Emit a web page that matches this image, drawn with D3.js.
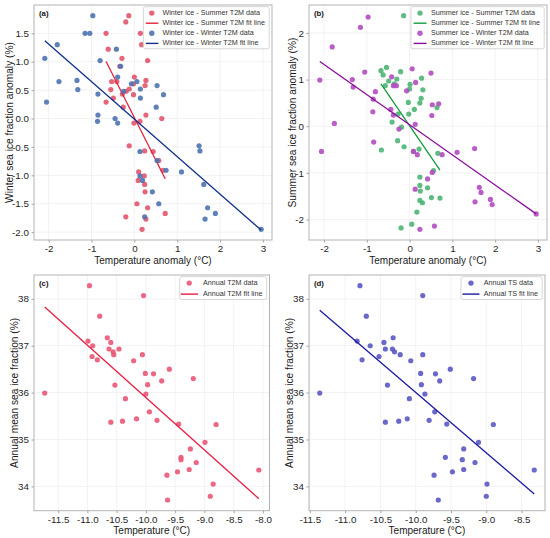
<!DOCTYPE html>
<html><head><meta charset="utf-8">
<script src="https://cdn.jsdelivr.net/npm/d3@7"></script>
<style>
body{margin:0;background:#fff}
text{font-family:"Liberation Sans",Arial,Helvetica,sans-serif}
</style>
</head><body>
<svg id="chart" width="550" height="538"></svg>
<script>
// ---------- DATA ----------
// Panel (a): winter ice anomaly vs summer / winter T2M anomaly
const aSummerX = [-0.13,-0.20,-0.66,0.14,0.17,-0.61,-0.29,0.31,-0.34,0.00,0.27,-0.53,-0.41,0.25,-0.02,-0.55,-0.12,-0.19,-0.28,-0.02,-0.49,-0.66,-0.26,0.27,0.64,0.13,-0.01,-0.12,0.24,0.44,0.57,0.67,0.10,0.23,0.09,0.24,0.25,0.06,0.31,0.72,-0.20,0.27,0.18];
const aSummerY = [1.81,1.70,1.50,1.50,1.30,1.22,1.06,1.02,0.92,0.73,0.67,0.65,0.65,0.58,0.61,0.51,0.52,0.48,0.43,0.42,0.36,0.29,0.20,0.06,0.00,-0.05,-0.08,-0.48,-0.57,-0.58,-0.74,-0.91,-0.94,-1.01,-1.09,-1.16,-1.29,-1.50,-1.57,-1.67,-1.73,-1.77,-1.95];
const aWinterX = [-0.97,-1.15,-1.04,-1.80,-2.09,-0.42,-0.80,-0.32,-1.76,-1.34,-1.32,-2.05,-0.85,-0.39,-0.07,0.06,-0.25,0.14,0.53,0.14,0.68,0.51,-0.85,-0.86,-0.45,-0.39,0.13,1.51,1.53,0.74,1.10,0.13,0.19,1.62,0.42,0.57,0.24,1.65,1.71,1.89,2.96,0.53];
const aWinterY = [1.81,1.50,1.50,1.30,1.06,1.22,1.02,0.92,0.65,0.67,0.51,0.29,0.43,0.73,0.61,0.65,0.48,0.52,0.58,0.36,0.42,0.20,0.06,-0.05,0.00,-0.08,-0.58,-0.48,-0.57,-0.91,-0.94,-1.01,-1.09,-1.16,-1.29,-1.50,-1.73,-1.77,-1.57,-1.67,-1.95,-0.74];
// Panel (b): summer ice anomaly vs summer / winter T2M anomaly
const bSummerX = [-0.14,-0.54,-0.67,-0.21,-0.62,-0.49,-0.30,-0.57,-0.36,0.01,0.28,0.00,0.31,0.27,-0.03,0.24,0.11,0.64,-0.27,-0.02,-0.41,-0.19,-0.28,-0.66,-0.13,0.22,0.09,0.66,0.56,0.24,0.24,0.25,0.42,0.24,0.30,0.51,0.71,0.17,-0.20,0.05];
const bSummerY = [2.37,1.26,1.19,1.17,1.10,0.97,1.01,0.87,0.91,0.90,1.03,0.80,0.78,0.60,0.51,0.50,0.36,0.40,0.26,0.26,0.09,-0.02,-0.31,-0.51,-0.44,-0.49,-0.54,-0.58,-0.95,-1.09,-1.27,-1.39,-1.32,-1.59,-1.64,-1.53,-1.54,-1.84,-2.18,-2.10];
const bWinterX = [-0.97,-1.15,-1.81,-2.10,-2.06,-1.76,-1.34,-1.32,-1.05,-0.80,-0.85,-0.86,-0.84,-0.42,-0.38,-0.31,-0.44,-0.38,-0.25,0.06,-0.07,0.14,0.50,0.53,0.68,0.52,0.13,0.09,0.18,0.76,1.11,1.52,0.53,0.13,0.42,1.63,1.67,1.53,1.89,1.93,2.96,0.58,0.24];
const bWinterY = [2.34,2.12,1.70,0.99,-0.54,0.06,1.00,0.84,1.16,0.74,0.58,0.31,-0.34,1.06,0.87,0.87,0.36,0.24,-0.06,1.23,0.76,0.94,1.14,0.46,0.48,0.23,0.04,-0.54,-0.61,-0.61,-0.56,-0.48,-0.99,-1.35,-1.13,-1.31,-1.42,-1.62,-1.57,-1.68,-1.88,-2.14,-2.21];
// Panels (c),(d): annual mean sea ice fraction vs annual T2M / TS
const annualIce = [35.99,38.28,38.07,37.63,37.10,37.00,36.77,36.70,37.17,37.07,36.93,36.87,36.81,36.93,36.68,36.81,36.41,36.40,36.50,36.25,36.30,36.17,36.16,35.87,35.97,35.59,35.44,35.39,35.37,35.41,35.33,35.32,34.94,34.80,34.62,34.57,34.51,34.36,34.31,34.24,34.35,34.05,33.79,33.71];
const annualT2M = [-11.73,-10.965,-10.04,-10.79,-10.99,-10.91,-10.92,-10.83,-10.66,-10.60,-10.63,-10.56,-10.55,-10.46,-10.21,-10.06,-10.01,-9.87,-9.60,-9.73,-9.19,-9.97,-10.53,-10.35,-10.00,-9.94,-10.16,-10.40,-10.60,-9.81,-9.44,-8.80,-8.99,-9.24,-9.40,-9.40,-9.14,-9.26,-9.46,-9.64,-8.07,-8.85,-8.90,-9.63];
const annualTS  = [-11.36,-10.79,-9.90,-10.70,-10.83,-10.645,-10.52,-10.76,-10.32,-10.45,-10.43,-10.30,-10.22,-10.33,-10.07,-9.90,-9.93,-9.72,-9.51,-9.66,-9.18,-9.92,-10.40,-10.09,-9.87,-9.73,-10.12,-10.24,-10.43,-9.81,-9.56,-8.90,-9.11,-9.32,-9.58,-9.34,-9.16,-9.32,-9.48,-9.74,-8.32,-8.99,-9.00,-9.68];
// Fit lines: [slope, intercept]
const fitA_summer = [-1.497, 0.017];
const fitA_winter = [-0.660, -0.010];
const fitB_summer = [-1.341, 0.009];
const fitB_winter = [-0.646, 0.033];
const fitC = [-1.1175, 24.72];
const fitD = [-1.2895, 23.11];
// Tick values
const ticksAB_x = [-2,-1,0,1,2,3];
const ticksA_y = [-2.0,-1.5,-1.0,-0.5,0.0,0.5,1.0,1.5];
const ticksB_y = [-2,-1,0,1,2];
const ticksC_x = [-11.5,-11.0,-10.5,-10.0,-9.5,-9.0,-8.5,-8.0];
const ticksD_x = [-11.5,-11.0,-10.5,-10.0,-9.5,-9.0,-8.5];
const ticksCD_y = [34,35,36,37,38];

// ---------- DRAWING ----------
const svg = d3.select("#chart");
const zip = (xs, ys) => xs.map((x,i)=>({x, y: ys[i]}));
const f1 = d => d.toFixed(1);
const f0 = d => d.toFixed(0);

const panels = [
  {tag:"(a)", box:[34,272,5,240], xt:ticksAB_x, yt:ticksA_y, xf:f0, yf:f1,
   xlabel:"Temperature anomaly (°C)", ylabel:"Winter sea ice fraction anomaly (%)", ylx:10,
   leg:{mOff:8.4, l0:2.4, l1:15, tOff:19, gap:10.1},
   series:[
     {data:zip(aSummerX,aSummerY), fit:fitA_summer, pc:"#e2556d", lc:"#e0233f", name:"Winter ice - Summer T2M"},
     {data:zip(aWinterX,aWinterY), fit:fitA_winter, pc:"#4d73b3", lc:"#0e318c", name:"Winter ice - Winter T2M"}]},
  {tag:"(b)", box:[309,547,5,240], xt:ticksAB_x, yt:ticksB_y, xf:f0, yf:f0,
   xlabel:"Temperature anomaly (°C)", ylabel:"Summer sea ice fraction anomaly (%)", ylx:293.5,
   leg:{mOff:9, l0:2.6, l1:15.5, tOff:20, gap:10.1},
   series:[
     {data:zip(bSummerX,bSummerY), fit:fitB_summer, pc:"#4cb574", lc:"#169a3e", name:"Summer ice - Summer T2M"},
     {data:zip(bWinterX,bWinterY), fit:fitB_winter, pc:"#b24dc1", lc:"#8a0e9b", name:"Summer ice - Winter T2M"}]},
  {tag:"(c)", box:[34,269.5,275,510.7], xt:ticksC_x, yt:ticksCD_y, xf:f1, yf:f0,
   xlabel:"Temperature (°C)", ylabel:"Annual mean sea ice fraction (%)", ylx:15,
   leg:{mOff:9.5, l0:1, l1:18.3, tOff:23.3, gap:11},
   series:[
     {data:zip(annualT2M,annualIce), fit:fitC, pc:"#ea5677", lc:"#e81c43", name:"Annual T2M"}]},
  {tag:"(d)", box:[309,545,275,510.7], xt:ticksD_x, yt:ticksCD_y, xf:f1, yf:f0,
   xlabel:"Temperature (°C)", ylabel:"Annual mean sea ice fraction (%)", ylx:290,
   leg:{mOff:10, l0:1.5, l1:18.5, tOff:22.7, gap:11},
   series:[
     {data:zip(annualTS,annualIce), fit:fitD, pc:"#5a58c2", lc:"#1c1aa3", name:"Annual TS"}]}
];

function padExtent(vals){
  const [mn,mx] = d3.extent(vals); const p = (mx-mn)*0.05;
  return [mn-p, mx+p];
}

panels.forEach(P => {
  const [x0,x1,y0,y1] = P.box;
  const allX = P.series.flatMap(s=>s.data.map(d=>d.x));
  const allY = P.series.flatMap(s=>s.data.map(d=>d.y));
  const xs = d3.scaleLinear().domain(padExtent(allX)).range([x0,x1]);
  const ys = d3.scaleLinear().domain(padExtent(allY)).range([y1,y0]);
  const g = svg.append("g");

  // grid
  g.append("g").selectAll("line").data(P.xt).join("line")
    .attr("x1",d=>xs(d)).attr("x2",d=>xs(d)).attr("y1",y0).attr("y2",y1)
    .attr("stroke","#ececec").attr("stroke-width",0.7);
  g.append("g").selectAll("line").data(P.yt).join("line")
    .attr("y1",d=>ys(d)).attr("y2",d=>ys(d)).attr("x1",x0).attr("x2",x1)
    .attr("stroke","#ececec").attr("stroke-width",0.7);

  // axes
  const ax = g.append("g").attr("transform",`translate(0,${y1})`)
    .call(d3.axisBottom(xs).tickValues(P.xt).tickFormat(P.xf).tickSize(2.5).tickPadding(2.5));
  const ay = g.append("g").attr("transform",`translate(${x0},0)`)
    .call(d3.axisLeft(ys).tickValues(P.yt).tickFormat(P.yf).tickSize(2.5).tickPadding(2.5));
  [ax,ay].forEach(a=>{
    a.select(".domain").remove();
    a.selectAll(".tick line").attr("stroke","#888").attr("stroke-width",0.8);
    a.selectAll(".tick text").attr("fill","#262626").style("font-size","9.8px")
      .style("font-family",'"Liberation Sans",Arial,sans-serif');
  });

  // frame
  g.append("rect").attr("x",x0).attr("y",y0).attr("width",x1-x0).attr("height",y1-y0)
    .attr("fill","none").attr("stroke","#b3b3b3").attr("stroke-width",1);

  // data + fit
  P.series.forEach(s => {
    g.append("g").selectAll("circle").data(s.data).join("circle")
      .attr("cx",d=>xs(d.x)).attr("cy",d=>ys(d.y)).attr("r",2.6)
      .attr("fill",s.pc).attr("fill-opacity",0.9);
    const [lo,hi] = d3.extent(s.data, d=>d.x);
    const line = d3.line().x(d=>xs(d)).y(d=>ys(s.fit[0]*d + s.fit[1]));
    g.append("path").datum([lo,hi]).attr("d",line)
      .attr("fill","none").attr("stroke",s.lc).attr("stroke-width",1.3);
  });

  // panel tag
  g.append("text").attr("x",x0+5).attr("y",y0+10.5).text(P.tag)
    .style("font-size","7.8px").style("font-weight","bold").attr("fill","#111");

  // axis labels
  g.append("text").attr("x",(x0+x1)/2).attr("y",y1+21).attr("text-anchor","middle")
    .attr("dominant-baseline","middle").style("font-size","10px").attr("fill","#1a1a1a").text(P.xlabel);
  g.append("text").attr("transform",`translate(${P.ylx},${(y0+y1)/2}) rotate(-90)`)
    .attr("text-anchor","middle").attr("dominant-baseline","middle")
    .style("font-size","10.2px").attr("fill","#1a1a1a").text(P.ylabel);

  // legend
  const entries = [];
  P.series.forEach(s => {
    entries.push({type:"dot", c:s.pc, label:s.name+" data"});
    entries.push({type:"line", c:s.lc, label:s.name+" fit line"});
  });
  const L = P.leg;
  const lg = g.append("g");
  const bg = lg.append("rect");
  const texts = lg.selectAll("text").data(entries).join("text")
    .style("font-size","7.2px").attr("fill","#333").attr("dominant-baseline","middle").text(d=>d.label);
  const tw = d3.max(texts.nodes(), n=>n.getComputedTextLength());
  const w = L.tOff + tw + 4.3;
  const top = y0 + 1.7;
  const left = x1 - 2.8 - w;
  const h = 6.4 + (entries.length-1)*L.gap + 5.4;
  bg.attr("x",left).attr("y",top).attr("width",w).attr("height",h).attr("rx",2)
    .attr("fill","#fff").attr("fill-opacity",0.85).attr("stroke","#cccccc").attr("stroke-width",0.8);
  texts.attr("x",left+L.tOff).attr("y",(d,i)=>top+6.4+i*L.gap);
  entries.forEach((e,i) => {
    const cy = top+6.4+i*L.gap;
    if(e.type==="dot") lg.append("circle").attr("cx",left+L.mOff).attr("cy",cy).attr("r",2.7).attr("fill",e.c).attr("fill-opacity",0.9);
    else lg.append("line").attr("x1",left+L.l0).attr("x2",left+L.l1).attr("y1",cy).attr("y2",cy).attr("stroke",e.c).attr("stroke-width",1.4);
  });
});
</script>
</body></html>
